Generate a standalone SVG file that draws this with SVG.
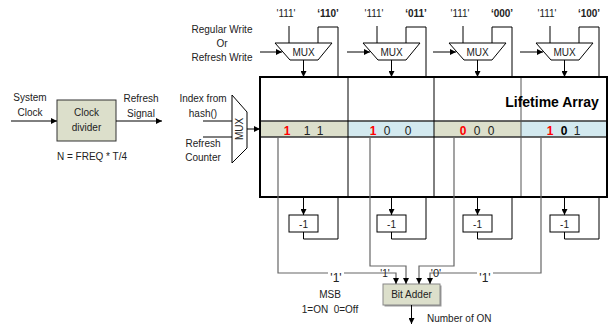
<svg xmlns="http://www.w3.org/2000/svg" width="608" height="329" viewBox="0 0 608 329">
<style>
text{font-family:"Liberation Sans",Arial,sans-serif;font-size:10px;fill:#222;text-anchor:middle}
.b{font-weight:bold}
.mux{fill:#fff;stroke:#000;stroke-width:1}
.ln{fill:none;stroke:#000;stroke-width:1}
.gl{fill:none;stroke:#666;stroke-width:1.2}
.box{fill:#fff;stroke:#000;stroke-width:1}
.tan{fill:#dcdfcb}
.blue{fill:#d3e9ef}
.d{font-size:12px}
.r{fill:#f00;font-weight:bold}
</style>
<defs>
<marker id="ah" viewBox="0 0 6 6" refX="6" refY="3" markerWidth="6" markerHeight="6" markerUnits="userSpaceOnUse" orient="auto">
<path d="M0,0 L6,3 L0,6 z" fill="#000"/>
</marker>
</defs>
<rect width="608" height="329" fill="#fff"/>

<!-- free labels -->
<g id="labels">
<text x="222" y="33">Regular Write</text>
<text x="222" y="47">Or</text>
<text x="222" y="61">Refresh Write</text>
<text x="30" y="101">System</text>
<text x="30" y="116">Clock</text>
<text x="141" y="102">Refresh</text>
<text x="141" y="117">Signal</text>
<text x="92" y="160">N = FREQ * T/4</text>
<text x="203" y="102">Index from</text>
<text x="203" y="117">hash()</text>
<text x="203" y="147">Refresh</text>
<text x="203" y="161">Counter</text>
<text x="330" y="298">MSB</text>
<text x="330" y="313" xml:space="preserve">1=ON  0=Off</text>
<text x="427" y="322" style="text-anchor:start">Number of ON</text>
<text x="286" y="17">'111'</text><text x="328" y="17" class="b">‘110’</text>
<text x="374" y="17">'111'</text><text x="416" y="17" class="b">‘011’</text>
<text x="460" y="17">'111'</text><text x="502" y="17" class="b">‘000’</text>
<text x="547" y="17">'111'</text><text x="589" y="17" class="b">‘100’</text>
</g>

<!-- Lifetime array -->
<g id="lifetime-array">
<rect x="260" y="121" width="88" height="16" class="tan"/>
<rect x="348" y="121" width="86" height="16" class="blue"/>
<rect x="434" y="121" width="87" height="16" class="tan"/>
<rect x="521" y="121" width="86" height="16" class="blue"/>
<line x1="260" y1="121" x2="607" y2="121" stroke="#333" stroke-width="1.5"/>
<line x1="260" y1="137" x2="607" y2="137" stroke="#333" stroke-width="1.5"/>
<line x1="348" y1="77" x2="348" y2="197" stroke="#000"/>
<line x1="434" y1="77" x2="434" y2="197" stroke="#000"/>
<line x1="521" y1="77" x2="521" y2="197" stroke="#555"/>
<rect x="260" y="77" width="347" height="120" fill="none" stroke="#000" stroke-width="2"/>
<text x="552" y="106.5" class="b" style="font-size:14px;fill:#000">Lifetime Array</text>
<text x="287" y="134.5" class="d r">1</text><text x="307" y="134.5" class="d">1</text><text x="320" y="134.5" class="d">1</text>
<text x="373" y="134.5" class="d r">1</text><text x="387" y="134.5" class="d">0</text><text x="408" y="134.5" class="d">0</text>
<text x="463" y="134.5" class="d r">0</text><text x="477" y="134.5" class="d">0</text><text x="491" y="134.5" class="d">0</text>
<text x="550" y="134.5" class="d r">1</text><text x="564" y="134.5" class="d b" style="fill:#000">0</text><text x="577" y="134.5" class="d">1</text>
</g>

<!-- Clock divider -->
<g id="clock-divider">
<rect x="57" y="100" width="59" height="41" fill="#dcdfcb" stroke="#333"/>
<text x="86.5" y="116">Clock</text>
<text x="86.5" y="131">divider</text>
</g>

<!-- index mux -->
<g id="index-mux">
<polygon points="232,95 247,112 247,148 232,163" class="mux"/>
<text transform="translate(243,129) rotate(-90)">MUX</text>
</g>

<!-- write muxes -->
<g id="mux-1"><polygon points="275,43 332,43 318,60 290,60" class="mux"/><text x="303.5" y="55.5">MUX</text></g>
<g id="mux-2"><polygon points="363,43 420,43 406,60 378,60" class="mux"/><text x="391.5" y="55.5">MUX</text></g>
<g id="mux-3"><polygon points="449,43 506,43 492,60 464,60" class="mux"/><text x="477.5" y="55.5">MUX</text></g>
<g id="mux-4"><polygon points="536,43 593,43 579,60 551,60" class="mux"/><text x="564.5" y="55.5">MUX</text></g>

<!-- decrementers -->
<g id="dec-1"><rect x="289" y="215" width="29" height="17" class="box"/><text x="303.5" y="227.5">-1</text></g>
<g id="dec-2"><rect x="377" y="215" width="29" height="17" class="box"/><text x="391.5" y="227.5">-1</text></g>
<g id="dec-3"><rect x="463" y="215" width="29" height="17" class="box"/><text x="477.5" y="227.5">-1</text></g>
<g id="dec-4"><rect x="550" y="215" width="29" height="17" class="box"/><text x="564.5" y="227.5">-1</text></g>

<!-- bit adder -->
<g id="bit-adder">
<rect x="384.5" y="285.5" width="57" height="21" fill="#999"/>
<rect x="383" y="284" width="57" height="21" fill="#dcdfcb" stroke="#888"/>
<text x="411.5" y="298">Bit Adder</text>
</g>

<!-- connectors -->
<g id="connectors">
<line x1="11" y1="121" x2="57" y2="121" class="ln" marker-end="url(#ah)"/>
<line x1="116" y1="121" x2="162" y2="121" class="ln" marker-end="url(#ah)"/>
<line x1="203" y1="121" x2="232" y2="121" class="ln"/>
<line x1="203" y1="137" x2="232" y2="137" class="ln"/>
<line x1="247" y1="129" x2="260" y2="129" class="ln" marker-end="url(#ah)"/>

<line x1="260" y1="52" x2="282" y2="52" class="ln" marker-end="url(#ah)"/>
<line x1="347" y1="52" x2="370" y2="52" class="ln" marker-end="url(#ah)"/>
<line x1="433" y1="52" x2="456" y2="52" class="ln" marker-end="url(#ah)"/>
<line x1="520" y1="52" x2="543" y2="52" class="ln" marker-end="url(#ah)"/>

<line x1="289" y1="26" x2="289" y2="43" class="ln"/>
<line x1="377" y1="26" x2="377" y2="43" class="ln"/>
<line x1="463" y1="26" x2="463" y2="43" class="ln"/>
<line x1="550" y1="26" x2="550" y2="43" class="ln"/>
<path d="M318,43 V27 H338 V77" class="ln"/>
<path d="M406,43 V27 H426 V77" class="ln"/>
<path d="M492,43 V27 H512 V77" class="ln"/>
<path d="M579,43 V27 H599 V77" class="ln"/>
<line x1="303.5" y1="60" x2="303.5" y2="77" class="ln" marker-end="url(#ah)"/>
<line x1="391.5" y1="60" x2="391.5" y2="77" class="ln" marker-end="url(#ah)"/>
<line x1="477.5" y1="60" x2="477.5" y2="77" class="ln" marker-end="url(#ah)"/>
<line x1="564.5" y1="60" x2="564.5" y2="77" class="ln" marker-end="url(#ah)"/>

<line x1="303.5" y1="198" x2="303.5" y2="215" class="ln" marker-end="url(#ah)"/>
<line x1="391.5" y1="198" x2="391.5" y2="215" class="ln" marker-end="url(#ah)"/>
<line x1="477.5" y1="198" x2="477.5" y2="215" class="ln" marker-end="url(#ah)"/>
<line x1="564.5" y1="198" x2="564.5" y2="215" class="ln" marker-end="url(#ah)"/>
<path d="M303.5,232 V239 H338 V198" class="ln"/>
<path d="M391.5,232 V239 H426 V198" class="ln"/>
<path d="M477.5,232 V239 H512 V198" class="ln"/>
<path d="M564.5,232 V239 H599 V198" class="ln"/>

<path d="M278,137 V273 H396 V284" class="gl" marker-end="url(#ah)"/>
<path d="M370,137 V266 H406 V284" class="gl" marker-end="url(#ah)"/>
<path d="M454,137 V266 H419 V284" class="gl" marker-end="url(#ah)"/>
<path d="M541,137 V273 H430 V284" class="gl" marker-end="url(#ah)"/>
<line x1="411.5" y1="305" x2="411.5" y2="324" class="ln" marker-end="url(#ah)"/>

<rect x="328" y="268" width="16" height="12" fill="#fff"/>
<text x="336" y="282" style="font-size:12px">'1'</text>
<text x="385" y="277">'1'</text>
<text x="436" y="277" style="font-size:11px">'0'</text>
<rect x="477" y="268" width="16" height="12" fill="#fff"/>
<text x="485" y="282" style="font-size:12px">'1'</text>
</g>
</svg>
